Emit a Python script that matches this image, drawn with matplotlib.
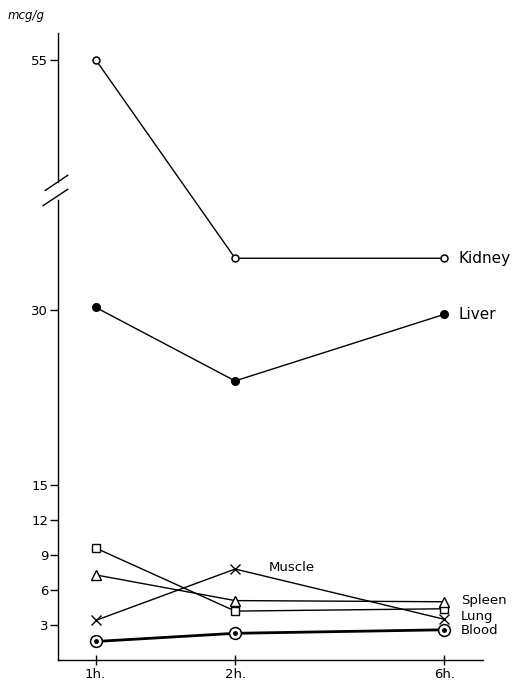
import numpy as np
import matplotlib.pyplot as plt

# tissue levels after dosing, mcg/g
times = ['1h.', '2h.', '6h.']
x_pos = [0, 1, 2.5]   # spacing as drawn on the original sheet

kidney = [55.0, 34.4, 34.4]
liver = [30.2, 23.9, 29.6]
lung = [9.6, 4.2, 4.4]
spleen = [7.3, 5.1, 5.0]
muscle = [3.4, 7.8, 3.5]
blood = [1.6, 2.3, 2.6]

y_ticks = [3, 6, 9, 12, 15, 30, 55]

# broken y axis: linear up to 40, compressed above
BRK = 40.0
SQZ = 0.76

def fwd(v):
    v = np.asarray(v, dtype=float)
    return np.where(v <= BRK, v, BRK + (v - BRK) * SQZ)

def inv(f):
    f = np.asarray(f, dtype=float)
    return np.where(f <= BRK, f, BRK + (f - BRK) / SQZ)

fig = plt.figure(figsize=(5.22, 6.82), dpi=100)
ax = fig.add_axes([0.111, 0.032, 0.815, 0.92])
ax.set_yscale('function', functions=(fwd, inv))
ax.set_ylim(0, inv(53.7))
ax.set_xlim(-0.27, 2.78)

lw = 1.0
ax.plot(x_pos, kidney, color='k', lw=lw, marker='o', ms=5, mfc='white', mew=1.1)
ax.plot(x_pos, liver, color='k', lw=lw, marker='o', ms=5.5, mfc='k')
ax.plot(x_pos, lung, color='k', lw=lw, marker='s', ms=5.5, mfc='white', mew=1.0)
ax.plot(x_pos, spleen, color='k', lw=lw, marker='^', ms=6.5, mfc='white', mew=1.0)
ax.plot(x_pos, muscle, color='k', lw=lw, marker='x', ms=6.5, mew=1.0)
ax.plot(x_pos, blood, color='k', lw=2.0, marker='o', ms=8.5, mfc='white', mew=1.1)
ax.plot(x_pos, blood, color='none', marker='o', ms=2.5, mfc='k', mec='k', lw=0)

# curve names at the right-hand end
fs = 11
ax.text(x_pos[2] + 0.1, kidney[2], 'Kidney', fontsize=fs, va='center')
ax.text(x_pos[2] + 0.1, liver[2], 'Liver', fontsize=fs, va='center')
ax.text(x_pos[1] + 0.24, muscle[1] + 0.15, 'Muscle', fontsize=9.5, va='center')
ax.text(x_pos[2] + 0.12, 5.1, 'Spleen', fontsize=9.5, va='center')
ax.text(x_pos[2] + 0.12, 3.7, 'Lung', fontsize=9.5, va='center')
ax.text(x_pos[2] + 0.12, 2.5, 'Blood', fontsize=9.5, va='center')

ax.text(-0.63, inv(54.9), 'mcg/g', fontsize=8.5, style='italic', transform=ax.transData)

# axes
for s in ['top', 'right', 'left']:
    ax.spines[s].set_visible(False)
ax.spines['bottom'].set_linewidth(1.0)

ytr = ax.get_yaxis_transform()
ax.plot([0, 0], [0, 39.4], color='k', lw=1.0, transform=ytr, clip_on=False)
ax.plot([0, 0], [41.2, inv(53.7)], color='k', lw=1.0, transform=ytr, clip_on=False)
ax.plot([-0.035, 0.023], [inv(38.9), inv(40.3)], color='k', lw=1.0, transform=ytr, clip_on=False)
ax.plot([-0.03, 0.023], [inv(40.2), inv(41.5)], color='k', lw=1.0, transform=ytr, clip_on=False)

ax.set_yticks(y_ticks)
ax.set_yticklabels([str(t) for t in y_ticks])
ax.minorticks_off()
ax.tick_params(axis='y', direction='out', length=6, width=1.0, labelsize=9.5, pad=1)
ax.set_xticks(x_pos)
ax.set_xticklabels(times)
ax.tick_params(axis='x', direction='inout', length=7, width=1.0, labelsize=9.5, pad=2)

fig.savefig('out.png', dpi=100, facecolor='white')
